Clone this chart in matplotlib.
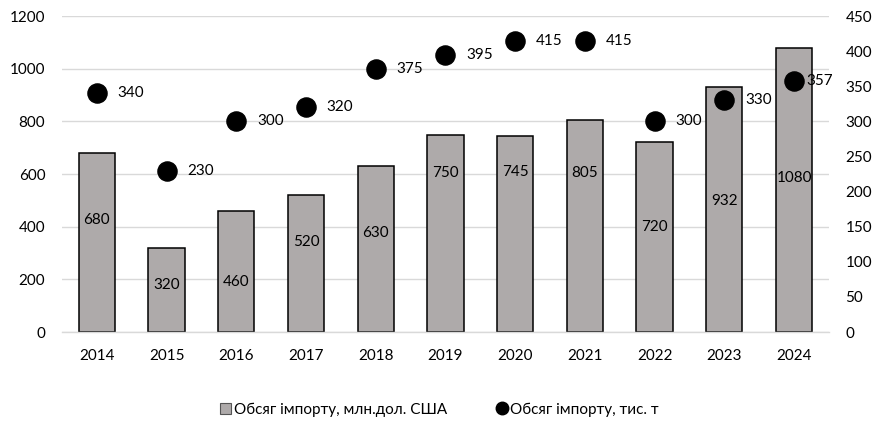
import matplotlib
matplotlib.use('Agg')
import matplotlib.pyplot as plt
from matplotlib.lines import Line2D
from matplotlib.patches import Patch

# ── Data ─────────────────────────────────────────────
years = ['2014', '2015', '2016', '2017', '2018', '2019', '2020', '2021', '2022', '2023', '2024']
import_usd = [680, 320, 460, 520, 630, 750, 745, 805, 720, 932, 1080]   # млн.дол. США
import_t = [340, 230, 300, 320, 375, 395, 415, 415, 300, 330, 357]      # тис. т

# where the bar labels sit (the original has them hand-placed)
bar_label_y = [425, 178, 190, 342, 376, 604, 608, 604, 399, 498, 585]
dot_label_dx = [15, 15, 15, 15, 15, 15, 15, 15, 15, 15, 9]

BAR_CLR = '#AEAAAA'
GRID_CLR = '#D9D9D9'
TEXT = '#000000'
FONT = 'Lato'

plt.rcParams['font.family'] = [FONT, 'DejaVu Sans']
plt.rcParams['font.size'] = 11

fig = plt.figure(figsize=(8.79, 4.23), dpi=100)
ax = fig.add_axes([0.0705, 0.215, 0.8725, 0.747])
x = list(range(len(years)))

ax.bar(x, import_usd, width=0.52, color=BAR_CLR, edgecolor='black', linewidth=1.1, zorder=2)
for xi, v, ly in zip(x, import_usd, bar_label_y):
    ax.text(xi, ly, str(v), ha='center', va='center', fontsize=11, color=TEXT, zorder=3)

ax.set_xlim(-0.5, len(years) - 0.5)
ax.set_ylim(0, 1200)
ax.set_yticks(range(0, 1201, 200))
ax.set_xticks(x)
ax.set_xticklabels(years)
ax.grid(axis='y', color=GRID_CLR, linewidth=1, zorder=0)
ax.set_axisbelow(True)
for s in ['top', 'right', 'left']:
    ax.spines[s].set_visible(False)
ax.spines['bottom'].set_color(GRID_CLR)
ax.spines['bottom'].set_linewidth(1)
ax.tick_params(axis='both', length=0, labelsize=11, colors=TEXT)
ax.tick_params(axis='y', pad=12)
ax.tick_params(axis='x', pad=12)

ax2 = ax.twinx()
ax2.set_ylim(0, 450)
ax2.set_yticks(range(0, 451, 50))
for s in ax2.spines.values():
    s.set_visible(False)
ax2.tick_params(axis='y', length=0, labelsize=11, colors=TEXT, pad=12)
ax2.scatter(x, import_t, s=190, color='black', zorder=4)
for xi, v, dx in zip(x, import_t, dot_label_dx):
    ax2.annotate(str(v), (xi, v), textcoords='offset points', xytext=(dx, 0),
                 ha='left', va='center', fontsize=11, color=TEXT)

handles = [
    Patch(facecolor=BAR_CLR, edgecolor='#555555', linewidth=0.8,
          label='Обсяг імпорту, млн.дол. США'),
    Line2D([0], [0], marker='o', color='none', markerfacecolor='black',
           markeredgecolor='black', markersize=9, label='Обсяг імпорту, тис. т'),
]
fig.legend(handles=handles, loc='center', bbox_to_anchor=(0.5, 0.032), ncol=2,
           frameon=False, fontsize=11, handlelength=0.7, handleheight=0.7,
           handletextpad=0.2, columnspacing=3.2)

fig.savefig('out.png', dpi=100, facecolor='white')
